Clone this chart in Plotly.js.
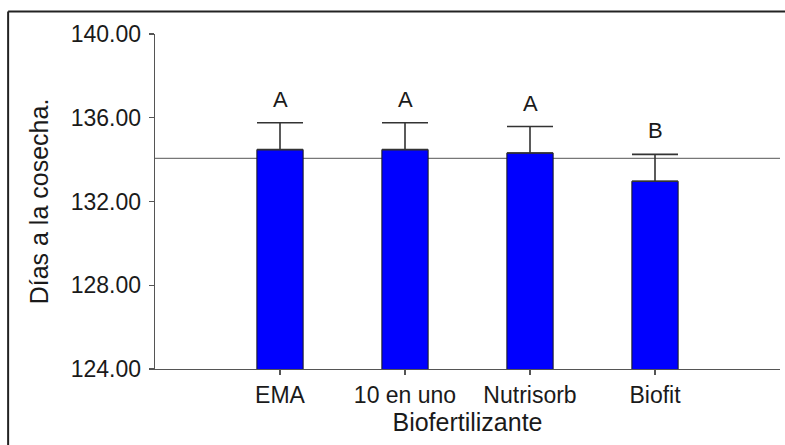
<!DOCTYPE html>
<html>
<head>
<meta charset="utf-8">
<script src="https://cdn.plot.ly/plotly-3.0.1.min.js"></script>
<style>html,body{margin:0;padding:0;background:#fff;overflow:hidden;}#chart{width:785px;height:445px;overflow:hidden;}</style>
</head>
<body>
<div id="chart"></div>
<script>
const categories = ["EMA", "10 en uno", "Nutrisorb", "Biofit"];
const means = [134.48, 134.48, 134.32, 132.97];
const stdErrors = [1.28, 1.28, 1.26, 1.28];
const letters = ["A", "A", "A", "B"];
const yTicks = [124, 128, 132, 136, 140];

const overallMean = means.reduce((a, b) => a + b, 0) / means.length;
const font = "Liberation Sans, Arial, sans-serif";

const bars = {
  type: "bar",
  x: categories,
  y: means,
  width: 0.37,
  marker: {color: "#0000FF", line: {color: "#1a1a1a", width: 1}},
  error_y: {
    type: "data", symmetric: false, array: stdErrors,
    arrayminus: stdErrors.map(() => 0),
    color: "#333333", thickness: 1.6, width: 23
  },
  hoverinfo: "skip"
};

const annotations = categories.map((c, i) => ({
  x: c, y: means[i] + stdErrors[i], xref: "x", yref: "y",
  text: letters[i], showarrow: false, yanchor: "bottom", yshift: 9,
  font: {family: font, size: 22, color: "#1a1a1a"}
}));

const layout = {
  width: 785, height: 445,
  margin: {l: 155, r: 5, t: 34, b: 76},
  paper_bgcolor: "#ffffff", plot_bgcolor: "#ffffff",
  showlegend: false,
  bargap: 0,
  xaxis: {
    type: "category", range: [-1, 4],
    showgrid: false, zeroline: false,
    showline: true, linecolor: "#555555", linewidth: 1.3,
    ticks: "outside", ticklen: 5, tickcolor: "#555555", tickwidth: 1.3,
    ticklabelstandoff: 0,
    tickfont: {family: font, size: 23, color: "#1a1a1a"},
    title: {text: "Biofertilizante", standoff: 4, font: {family: font, size: 25, color: "#1a1a1a"}},
    automargin: false, fixedrange: true
  },
  yaxis: {
    range: [124, 140],
    tickvals: yTicks, ticktext: yTicks.map(v => v.toFixed(2)),
    showgrid: false, zeroline: false,
    showline: true, linecolor: "#555555", linewidth: 1.3,
    ticks: "outside", ticklen: 5, tickcolor: "#555555", tickwidth: 1.3,
    ticklabelstandoff: 3,
    tickfont: {family: font, size: 23, color: "#1a1a1a"},
    title: {text: "Días a la cosecha.", standoff: 15, font: {family: font, size: 25, color: "#1a1a1a"}},
    automargin: false, fixedrange: true
  },
  shapes: [
    {type: "line", xref: "paper", yref: "y", x0: 0, x1: 1, y0: overallMean, y1: overallMean,
     line: {color: "#777777", width: 1.2}, layer: "below"},
    {type: "line", xref: "paper", yref: "paper", x0: -0.235, x1: 1.2, y0: 1.067, y1: 1.067,
     line: {color: "#222222", width: 2}},
    {type: "line", xref: "paper", yref: "paper", x0: -0.235, x1: -0.235, y0: 1.067, y1: -0.4,
     line: {color: "#222222", width: 2}}
  ],
  annotations: annotations
};

Plotly.newPlot("chart", [bars], layout, {displayModeBar: false, staticPlot: true});
</script>
</body>
</html>
